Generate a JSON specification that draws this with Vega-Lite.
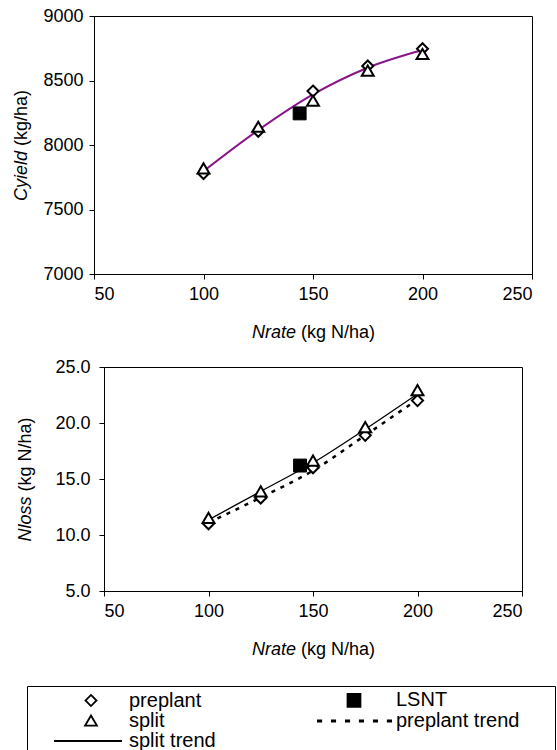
{
  "$schema": "https://vega.github.io/schema/vega-lite/v6.json",
  "autosize": {"type": "pad"},
  "padding": {"left": 11, "top": 6, "right": 0, "bottom": 0},
  "config": {
    "font": "Liberation Sans",
    "view": {"stroke": "black", "strokeWidth": 1},
    "axis": {
      "grid": false,
      "labelFontSize": 18,
      "labelColor": "black",
      "titleFontSize": 18,
      "titleColor": "black",
      "titleFontWeight": "normal",
      "domainColor": "black",
      "tickColor": "black",
      "tickSize": 5
    }
  },
  "bounds": "flush",
  "center": true,
  "spacing": 93,
  "resolve": {"scale": {"shape": "shared"}, "legend": {"shape": "shared"}},
  "datasets": {
    "yieldPts": [
      {"Nrate": 100, "Cyield": 7779, "series": "preplant"},
      {"Nrate": 125, "Cyield": 8107, "series": "preplant"},
      {"Nrate": 150, "Cyield": 8418, "series": "preplant"},
      {"Nrate": 175, "Cyield": 8612, "series": "preplant"},
      {"Nrate": 200, "Cyield": 8746, "series": "preplant"},
      {"Nrate": 100, "Cyield": 7815, "series": "split"},
      {"Nrate": 125, "Cyield": 8138, "series": "split"},
      {"Nrate": 150, "Cyield": 8340, "series": "split"},
      {"Nrate": 175, "Cyield": 8573, "series": "split"},
      {"Nrate": 200, "Cyield": 8702, "series": "split"},
      {"Nrate": 143.9, "Cyield": 8245, "series": "LSNT"}
    ],
    "yieldTrend": [
      {"Nrate": 100, "Cyield": 7797},
      {"Nrate": 125, "Cyield": 8115},
      {"Nrate": 150, "Cyield": 8392},
      {"Nrate": 175, "Cyield": 8599},
      {"Nrate": 200, "Cyield": 8736}
    ],
    "lossPts": [
      {"Nrate": 100, "Nloss": 11.0, "series": "preplant"},
      {"Nrate": 125, "Nloss": 13.3, "series": "preplant"},
      {"Nrate": 150, "Nloss": 16.0, "series": "preplant"},
      {"Nrate": 175, "Nloss": 18.9, "series": "preplant"},
      {"Nrate": 200, "Nloss": 22.0, "series": "preplant"},
      {"Nrate": 100, "Nloss": 11.5, "series": "split"},
      {"Nrate": 125, "Nloss": 13.85, "series": "split"},
      {"Nrate": 150, "Nloss": 16.6, "series": "split"},
      {"Nrate": 175, "Nloss": 19.6, "series": "split"},
      {"Nrate": 200, "Nloss": 22.9, "series": "split"},
      {"Nrate": 143.8, "Nloss": 16.2, "series": "LSNT"}
    ],
    "lossTrend": [
      {"Nrate": 100, "Nloss": 11.35, "series": "split trend"},
      {"Nrate": 125, "Nloss": 13.9, "series": "split trend"},
      {"Nrate": 150, "Nloss": 16.45, "series": "split trend"},
      {"Nrate": 175, "Nloss": 19.45, "series": "split trend"},
      {"Nrate": 200, "Nloss": 22.6, "series": "split trend"},
      {"Nrate": 100, "Nloss": 11.1, "series": "preplant trend"},
      {"Nrate": 125, "Nloss": 13.35, "series": "preplant trend"},
      {"Nrate": 150, "Nloss": 15.75, "series": "preplant trend"},
      {"Nrate": 175, "Nloss": 18.9, "series": "preplant trend"},
      {"Nrate": 200, "Nloss": 22.1, "series": "preplant trend"}
    ]
  },
  "vconcat": [
    {
      "width": 438,
      "height": 258,
      "resolve": {"axis": {"x": "independent", "y": "independent"}},
      "layer": [
        {
          "data": {"name": "yieldTrend"},
          "mark": {"type": "line", "color": "#8A148A", "strokeWidth": 2, "interpolate": "monotone"},
          "encoding": {
            "x": {"field": "Nrate", "type": "quantitative", "scale": {"domain": [50, 250], "nice": false, "zero": false},
              "axis": {"orient": "bottom", "values": [50, 100, 150, 200, 250], "labelPadding": 6, "title": "Nrate", "titleFontStyle": "italic", "titleX": 157.5, "titleY": 58, "titleAlign": "left", "titleBaseline": "middle"}},
            "y": {"field": "Cyield", "type": "quantitative", "scale": {"domain": [7000, 9000], "nice": false, "zero": false},
              "axis": {"orient": "left", "values": [7000, 7500, 8000, 8500, 9000], "format": "d", "labelPadding": 6, "title": "Cyield", "titleFontStyle": "italic", "titleX": -73, "titleY": 184.5, "titleAngle": 270, "titleAlign": "left", "titleBaseline": "middle"}}
          }
        },
        {
          "data": {"name": "yieldPts"},
          "transform": [{"filter": "datum.series === 'preplant'"}],
          "mark": {"type": "point", "shape": "M0,-0.65L0.65,0L0,0.65L-0.65,0Z", "size": 289, "filled": true, "fill": "white", "stroke": "black", "strokeWidth": 2, "opacity": 1},
          "encoding": {
            "x": {"field": "Nrate", "type": "quantitative",
              "axis": {"orient": "bottom", "labels": false, "ticks": false, "domain": false, "title": "(kg N/ha)", "titleX": 206.5, "titleY": 58, "titleAlign": "left", "titleBaseline": "middle"}},
            "y": {"field": "Cyield", "type": "quantitative",
              "axis": {"orient": "left", "labels": false, "ticks": false, "domain": false, "title": "(kg/ha)", "titleX": -73, "titleY": 129.5, "titleAngle": 270, "titleAlign": "left", "titleBaseline": "middle"}}
          }
        },
        {
          "data": {"name": "yieldPts"},
          "transform": [{"filter": "datum.series === 'split'"}],
          "mark": {"type": "point", "shape": "M0,-0.65L0.7,0.55L-0.7,0.55Z", "size": 289, "filled": true, "fill": "white", "stroke": "black", "strokeWidth": 2, "opacity": 1},
          "encoding": {
            "x": {"field": "Nrate", "type": "quantitative", "axis": null},
            "y": {"field": "Cyield", "type": "quantitative", "axis": null}
          }
        },
        {
          "data": {"name": "yieldPts"},
          "transform": [{"filter": "datum.series === 'LSNT'"}],
          "mark": {"type": "point", "shape": "M-0.76,-0.76L0.76,-0.76L0.76,0.76L-0.76,0.76Z", "size": 289, "filled": true, "fill": "black", "stroke": "black", "strokeWidth": 1, "opacity": 1},
          "encoding": {
            "x": {"field": "Nrate", "type": "quantitative", "axis": null},
            "y": {"field": "Cyield", "type": "quantitative", "axis": null}
          }
        },
        {
          "data": {"name": "yieldPts"},
          "transform": [{"filter": "false"}],
          "mark": {"type": "point", "filled": false, "stroke": "black", "strokeWidth": 1.8, "opacity": 1, "size": 289},
          "encoding": {
            "x": {"field": "Nrate", "type": "quantitative", "axis": null},
            "y": {"field": "Cyield", "type": "quantitative", "axis": null},
            "shape": {"field": "series", "type": "nominal",
              "scale": {"domain": ["preplant", "split", "split trend", "LSNT", "preplant trend"],
                "range": [
                  "M5.88,-0.65L6.53,0L5.88,0.65L5.23,0Z",
                  "M5.88,-0.65L6.58,0.55L5.18,0.55Z",
                  "M1.53,0H9.53",
                  "M4.65,-0.76H6.17V0.76H4.65Z M4.65,-0.57H6.17 M4.65,-0.38H6.17 M4.65,-0.19H6.17 M4.65,0H6.17 M4.65,0.19H6.17 M4.65,0.38H6.17 M4.65,0.57H6.17 M28.1,0",
                  "M1.06,-0.06H1.66M1.06,0.06H1.66M2.7,-0.06H3.3M2.7,0.06H3.3M4.35,-0.06H4.95M4.35,0.06H4.95M5.99,-0.06H6.59M5.99,0.06H6.59M7.64,-0.06H8.24M7.64,0.06H8.24M9.28,-0.06H9.88M9.28,0.06H9.88"
                ]},
              "legend": {
                "orient": "none", "legendX": -67, "legendY": 670, "title": null,
                "columns": 2, "columnPadding": 82, "rowPadding": -2, "padding": 4,
                "strokeColor": "black",
                "labelFontSize": 20, "labelLimit": 0, "labelOffset": 78, "labelColor": "black",
                "symbolSize": 289, "symbolStrokeWidth": 1.8, "symbolStrokeColor": "black", "symbolFillColor": "transparent"
              }}
          }
        }
      ]
    },
    {
      "width": 418,
      "height": 224,
      "resolve": {"axis": {"x": "independent", "y": "independent"}},
      "layer": [
        {
          "data": {"name": "lossTrend"},
          "transform": [{"filter": "datum.series === 'split trend'"}],
          "mark": {"type": "line", "color": "black", "strokeWidth": 1.3, "interpolate": "monotone"},
          "encoding": {
            "x": {"field": "Nrate", "type": "quantitative", "scale": {"domain": [50, 250], "nice": false, "zero": false},
              "axis": {"orient": "bottom", "values": [50, 100, 150, 200, 250], "labelPadding": 6, "title": "Nrate", "titleFontStyle": "italic", "titleX": 147.5, "titleY": 58, "titleAlign": "left", "titleBaseline": "middle"}},
            "y": {"field": "Nloss", "type": "quantitative", "scale": {"domain": [5, 25], "nice": false, "zero": false},
              "axis": {"orient": "left", "values": [5, 10, 15, 20, 25], "format": ".1f", "labelPadding": 9, "title": "Nloss", "titleFontStyle": "italic", "titleX": -79, "titleY": 174, "titleAngle": 270, "titleAlign": "left", "titleBaseline": "middle"}}
          }
        },
        {
          "data": {"name": "lossTrend"},
          "transform": [{"filter": "datum.series === 'preplant trend'"}],
          "mark": {"type": "line", "color": "black", "strokeWidth": 2.5, "strokeDash": [4, 6], "interpolate": "monotone"},
          "encoding": {
            "x": {"field": "Nrate", "type": "quantitative", "axis": null},
            "y": {"field": "Nloss", "type": "quantitative", "axis": null}
          }
        },
        {
          "data": {"name": "lossPts"},
          "transform": [{"filter": "datum.series === 'preplant'"}],
          "mark": {"type": "point", "shape": "M0,-0.65L0.65,0L0,0.65L-0.65,0Z", "size": 289, "filled": true, "fill": "white", "stroke": "black", "strokeWidth": 2, "opacity": 1},
          "encoding": {
            "x": {"field": "Nrate", "type": "quantitative",
              "axis": {"orient": "bottom", "labels": false, "ticks": false, "domain": false, "title": "(kg N/ha)", "titleX": 196.5, "titleY": 58, "titleAlign": "left", "titleBaseline": "middle"}},
            "y": {"field": "Nloss", "type": "quantitative",
              "axis": {"orient": "left", "labels": false, "ticks": false, "domain": false, "title": "(kg N/ha)", "titleX": -79, "titleY": 124, "titleAngle": 270, "titleAlign": "left", "titleBaseline": "middle"}}
          }
        },
        {
          "data": {"name": "lossPts"},
          "transform": [{"filter": "datum.series === 'split'"}],
          "mark": {"type": "point", "shape": "M0,-0.65L0.7,0.55L-0.7,0.55Z", "size": 289, "filled": true, "fill": "white", "stroke": "black", "strokeWidth": 2, "opacity": 1},
          "encoding": {
            "x": {"field": "Nrate", "type": "quantitative", "axis": null},
            "y": {"field": "Nloss", "type": "quantitative", "axis": null}
          }
        },
        {
          "data": {"name": "lossPts"},
          "transform": [{"filter": "datum.series === 'LSNT'"}],
          "mark": {"type": "point", "shape": "M-0.76,-0.76L0.76,-0.76L0.76,0.76L-0.76,0.76Z", "size": 289, "filled": true, "fill": "black", "stroke": "black", "strokeWidth": 1, "opacity": 1},
          "encoding": {
            "x": {"field": "Nrate", "type": "quantitative", "axis": null},
            "y": {"field": "Nloss", "type": "quantitative", "axis": null}
          }
        }
      ]
    }
  ]
}
